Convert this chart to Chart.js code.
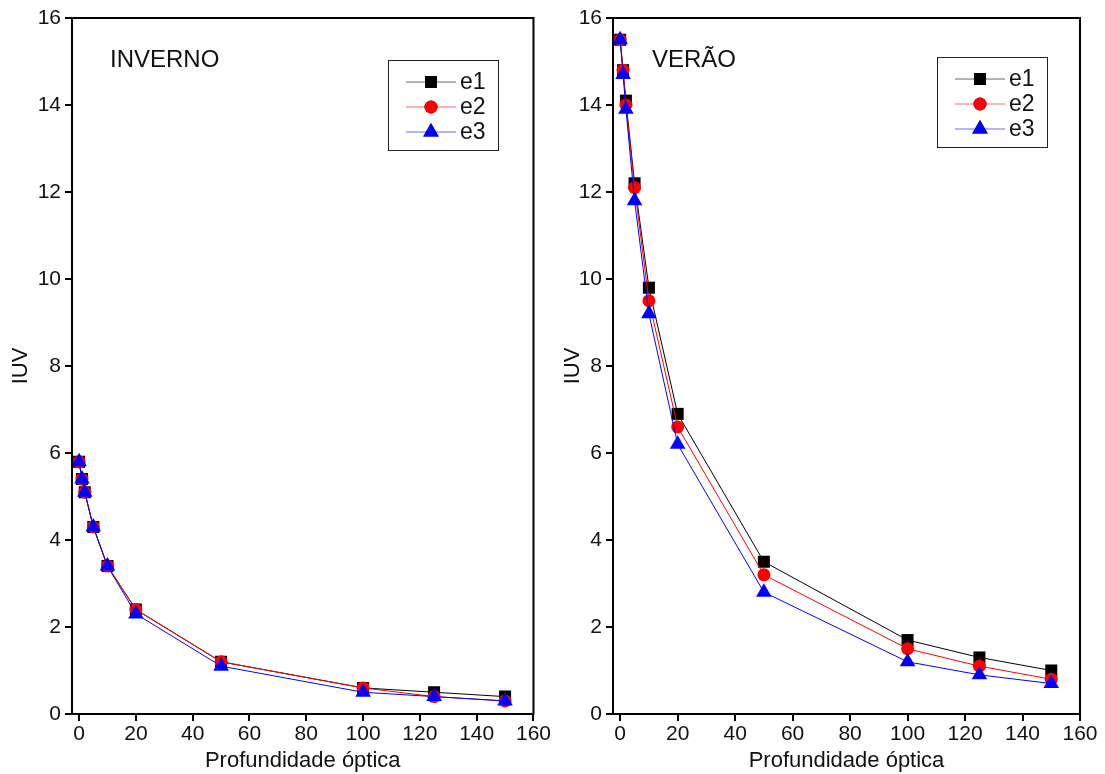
<!DOCTYPE html>
<html>
<head>
<meta charset="utf-8">
<script src="https://cdn.jsdelivr.net/npm/chart.js@4"></script>
<style>
  body { margin: 0; background: #fff; }
  .panel { position: absolute; top: 0; }
</style>
</head>
<body>
<div class="panel" style="left:0px"><canvas id="chartInverno" width="552" height="774"></canvas></div>
<div class="panel" style="left:552px"><canvas id="chartVerao" width="553" height="774"></canvas></div>
<script>
// optical depth values (x)
const depth = [0, 1, 2, 5, 10, 20, 50, 100, 125, 150];

// winter
const invernoE1 = [5.8, 5.4, 5.1, 4.3, 3.4, 2.4, 1.2, 0.6, 0.5, 0.4];
const invernoE2 = [5.8, 5.4, 5.1, 4.3, 3.4, 2.4, 1.2, 0.6, 0.4, 0.3];
const invernoE3 = [5.8, 5.4, 5.1, 4.3, 3.4, 2.3, 1.1, 0.5, 0.4, 0.3];

// summer
const veraoE1 = [15.5, 14.8, 14.1, 12.2, 9.8, 6.9, 3.5, 1.7, 1.3, 1.0];
const veraoE2 = [15.5, 14.8, 14.0, 12.1, 9.5, 6.6, 3.2, 1.5, 1.1, 0.8];
const veraoE3 = [15.5, 14.7, 13.9, 11.8, 9.2, 6.2, 2.8, 1.2, 0.9, 0.7];

const seriesNames = ["e1", "e2", "e3"];
const xTicks = [0, 20, 40, 60, 80, 100, 120, 140, 160];
const yTicks = [0, 2, 4, 6, 8, 10, 12, 14, 16];

const FONT = "'Liberation Sans', Arial, sans-serif";
const styles = [
  { color: "#000000", point: "rect", radius: 8.5 },
  { color: "#ff0000", point: "circle", radius: 6.5 },
  { color: "#0000ff", point: "triangle", radius: 9 }
];

function pts(vals) {
  return depth.map((d, i) => ({ x: d, y: vals[i] }));
}

function makeDatasets(list) {
  return list.map((vals, i) => ({
    label: seriesNames[i],
    data: pts(vals),
    borderColor: styles[i].color,
    backgroundColor: styles[i].color,
    borderWidth: 1,
    pointStyle: styles[i].point,
    pointRadius: styles[i].radius,
    pointBorderWidth: 0,
    order: 3 - i
  }));
}

// frame, season label and boxed legend inside the plot
const decor = {
  id: "decor",
  afterDraw(chart, args, opts) {
    const ctx = chart.ctx;
    const a = chart.chartArea;
    ctx.save();
    ctx.strokeStyle = "#000";
    ctx.lineWidth = 2;
    ctx.strokeRect(a.left, a.top, a.right - a.left, a.bottom - a.top);

    ctx.fillStyle = "#111";
    ctx.font = "24px " + FONT;
    ctx.textBaseline = "middle";
    ctx.textAlign = "left";
    ctx.fillText(opts.label, opts.labelX, opts.labelY);

    // legend
    const lx = opts.legX, ly = opts.legY, lw = 110, lh = 90;
    ctx.lineWidth = 1;
    ctx.strokeStyle = "#222";
    ctx.strokeRect(lx + 0.5, ly + 0.5, lw, lh);
    chart.data.datasets.forEach((ds, i) => {
      const yy = ly + 22 + i * 25;
      ctx.strokeStyle = ds.borderColor;
      ctx.lineWidth = 1;
      ctx.globalAlpha = 0.6;
      ctx.beginPath();
      ctx.moveTo(lx + 18, yy);
      ctx.lineTo(lx + 68, yy);
      ctx.stroke();
      ctx.globalAlpha = 1;
      Chart.helpers.drawPoint(ctx, {
        pointStyle: ds.pointStyle,
        radius: ds.pointRadius,
        borderWidth: 0,
        rotation: 0
      }, lx + 43, yy);
      ctx.fillStyle = ds.backgroundColor;
      ctx.fill();
      ctx.fillStyle = "#111";
      ctx.font = "23px " + FONT;
      ctx.fillText(ds.label, lx + 72, yy + 1);
    });
    ctx.restore();
  }
};

function makeChart(id, list, label, yWidth, padRight, decorOpts) {
  return new Chart(document.getElementById(id), {
    type: "line",
    data: { datasets: makeDatasets(list) },
    options: {
      responsive: false,
      animation: false,
      layout: { padding: { top: 18, right: padRight, bottom: 0, left: 0 } },
      plugins: {
        legend: { display: false },
        tooltip: { enabled: false },
        decor: Object.assign({ label: label }, decorOpts)
      },
      scales: {
        x: {
          type: "linear",
          min: -2.5,
          max: 160,
          afterBuildTicks: (s) => { s.ticks = xTicks.map(v => ({ value: v })); },
          afterFit: (s) => { s.height = 60; },
          grid: { drawOnChartArea: false, tickLength: 7, color: "#000", lineWidth: 2 },
          border: { color: "#000", width: 2 },
          ticks: { color: "#111", font: { size: 21, family: FONT }, padding: 1, maxRotation: 0 },
          title: { display: true, text: "Profundidade óptica", color: "#111", font: { size: 22, family: FONT }, padding: { top: 0, bottom: 0 } }
        },
        y: {
          type: "linear",
          min: 0,
          max: 16,
          afterBuildTicks: (s) => { s.ticks = yTicks.map(v => ({ value: v })); },
          afterFit: (s) => { s.width = yWidth; },
          grid: { drawOnChartArea: false, tickLength: 7, color: "#000", lineWidth: 2 },
          border: { color: "#000", width: 2 },
          ticks: { color: "#111", font: { size: 21, family: FONT }, padding: 4 },
          title: { display: true, text: "IUV", color: "#111", font: { size: 22, family: FONT }, padding: { top: 8, bottom: 2 } }
        }
      }
    },
    plugins: [decor]
  });
}

makeChart("chartInverno", [invernoE1, invernoE2, invernoE3], "INVERNO", 72, 14,
  { labelX: 110, labelY: 60, legX: 388, legY: 60 });
makeChart("chartVerao", [veraoE1, veraoE2, veraoE3], "VERÃO", 61, 25,
  { labelX: 100, labelY: 60, legX: 385, legY: 57 });
</script>
</body>
</html>
